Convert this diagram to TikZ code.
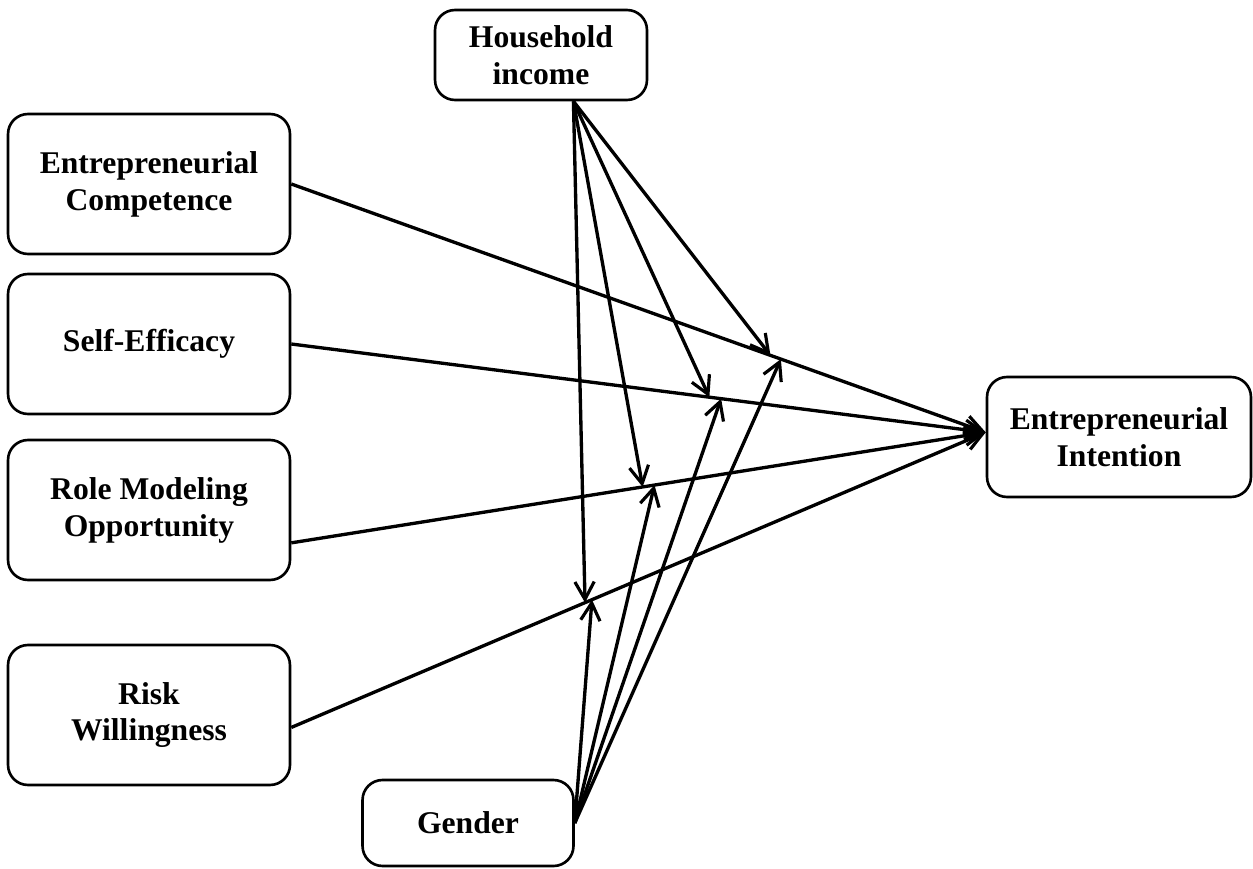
\documentclass[tikz,border=0pt]{standalone}
\usepackage{fontspec}
\setmainfont{Liberation Serif}
\usetikzlibrary{arrows.meta}
\begin{document}
\begin{tikzpicture}[x=0.02cm,y=-0.02cm,line width=1.9pt,
    box/.style={draw,rounded corners=0.4cm,line width=1.5pt,align=center,
      font=\fontsize{18}{21}\selectfont\bfseries,inner sep=0pt},
    >={Straight Barb[length=10pt,width=11pt,line width=1.8pt]}]
      \useasboundingbox (0,0) rectangle (1253,868);
      \foreach \n/\y/\t in{EC/184/{Entrepreneurial\\Competence}, SE/344/{Self-Efficacy}, RM/510/{Role Modeling\\Opportunity}, RW/715/{Risk\\Willingness}}{
        \node(\n)[box,minimum width=5.64cm,minimum height=2.8cm] at (149,\y) {\t};
      }
      \node(HI)[box,minimum width=4.24cm,minimum height=1.8cm] at (541,55) {Household\\income};
      \node(G)[box,minimum width=4.22cm,minimum height=1.72cm] at (468,823) {Gender};
      \node(EI)[box,minimum width=5.28cm,minimum height=2.4cm] at (1119,437) {Entrepreneurial\\Intention};
      \foreach \n/\a/\p/\q in{EC/0/0.69/0.705, SE/0/0.602/0.619, RM/-13/0.506/0.523, RW/-5/0.423/0.433}{
        \draw[->](\n.\a)--coordinate[pos=\p](h\n) coordinate[pos=\q](g\n)(EI.178);
      }
      \foreach \n in{EC, SE, RM, RW}{
        \draw[->](HI.-55)--(h\n);
        \draw[->](G.east)--(g\n);
      }
    \end{tikzpicture}
\end{document}
